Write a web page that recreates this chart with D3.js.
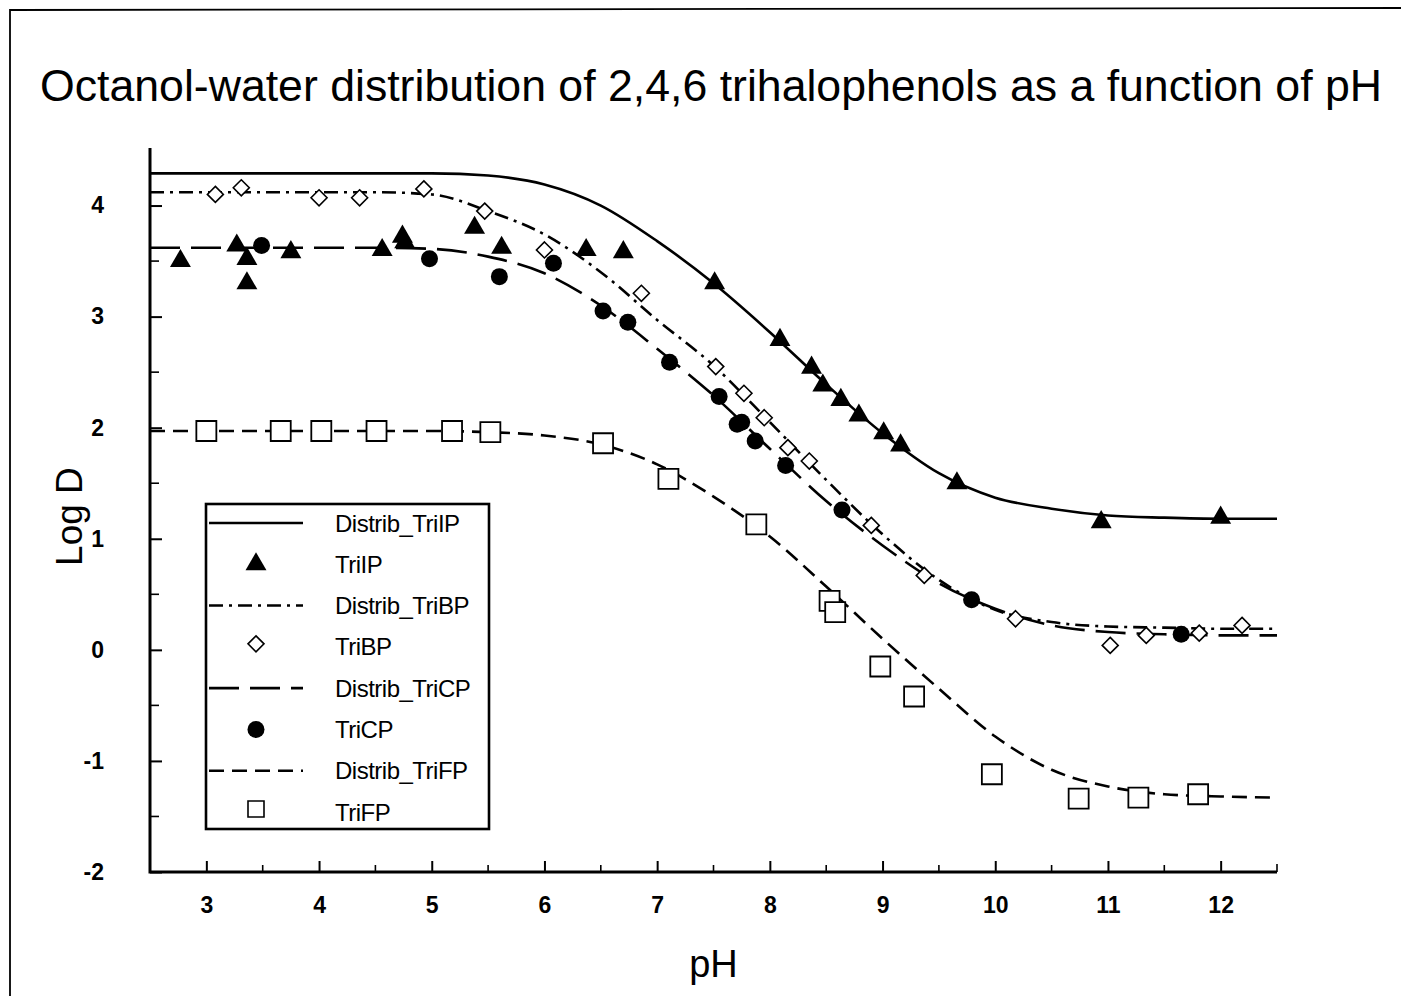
<!DOCTYPE html>
<html>
<head>
<meta charset="utf-8">
<script src="https://cdn.jsdelivr.net/npm/d3@7"></script>
<style>
  body { margin: 0; background: #fff; }
  svg { display: block; }
  text { font-family: "Liberation Sans", Arial, sans-serif; fill: #000; }
  .tick-label { font-family: "Liberation Sans Narrow", "Liberation Sans", sans-serif; font-weight: bold; font-size: 23px; }
</style>
</head>
<body>
<div id="wrapper"></div>
<script>
// fitted curves on a common pH grid
const curvePH = [2.5, 3, 3.5, 4, 4.5, 5, 5.5, 6, 6.5, 7, 7.5, 8, 8.5, 9, 9.5, 10, 10.5, 11, 11.5, 12, 12.5]
const curveTriIP = [4.29, 4.29, 4.29, 4.29, 4.29, 4.29, 4.27, 4.19, 4.00, 3.68, 3.30, 2.86, 2.39, 1.95, 1.59, 1.37, 1.27, 1.21, 1.19, 1.18, 1.18]
const curveTriBP = [4.12, 4.12, 4.12, 4.12, 4.12, 4.10, 3.95, 3.74, 3.40, 2.97, 2.56, 2.05, 1.53, 1.04, 0.63, 0.36, 0.25, 0.21, 0.20, 0.19, 0.19]
const curveTriCP = [3.62, 3.62, 3.62, 3.62, 3.62, 3.61, 3.54, 3.39, 3.10, 2.71, 2.29, 1.81, 1.34, 0.94, 0.60, 0.37, 0.22, 0.16, 0.14, 0.13, 0.13]
const curveTriFP = [1.97, 1.97, 1.97, 1.97, 1.97, 1.97, 1.96, 1.93, 1.85, 1.67, 1.38, 1.02, 0.57, 0.10, -0.35, -0.78, -1.08, -1.23, -1.30, -1.32, -1.33]

// measured points
const phTriIP = [2.77, 3.27, 3.36, 3.36, 3.75, 4.56, 4.74, 4.76, 5.38, 5.62, 6.37, 6.70, 7.51, 8.09, 8.37, 8.47, 8.63, 8.79, 9.01, 9.16, 9.66, 10.94, 12.0]
const logTriIP = [3.50, 3.64, 3.52, 3.30, 3.58, 3.60, 3.72, 3.67, 3.80, 3.62, 3.60, 3.58, 3.30, 2.79, 2.54, 2.38, 2.25, 2.11, 1.95, 1.84, 1.50, 1.15, 1.19]

const phTriBP = [3.08, 3.31, 4.0, 4.36, 4.93, 5.47, 6.0, 6.86, 7.52, 7.77, 7.95, 8.16, 8.35, 8.90, 9.37, 10.18, 11.02, 11.34, 11.81, 12.19]
const logTriBP = [4.10, 4.16, 4.07, 4.07, 4.15, 3.95, 3.60, 3.21, 2.55, 2.31, 2.09, 1.82, 1.70, 1.12, 0.67, 0.28, 0.04, 0.13, 0.15, 0.22]

const phTriCP = [3.49, 4.98, 5.60, 6.08, 6.52, 6.74, 7.11, 7.55, 7.71, 7.75, 7.87, 8.14, 8.64, 9.79, 11.65]
const logTriCP = [3.64, 3.52, 3.36, 3.48, 3.05, 2.95, 2.59, 2.28, 2.03, 2.05, 1.88, 1.66, 1.26, 0.45, 0.14]

const phTriFP = [3.0, 3.66, 4.02, 4.51, 5.18, 5.52, 6.52, 7.10, 7.88, 8.53, 8.58, 8.98, 9.28, 9.97, 10.74, 11.27, 11.80]
const logTriFP = [1.97, 1.97, 1.97, 1.97, 1.97, 1.96, 1.86, 1.54, 1.13, 0.44, 0.34, -0.15, -0.42, -1.12, -1.34, -1.33, -1.30]

const xTicks = [3, 4, 5, 6, 7, 8, 9, 10, 11, 12]
const yTicks = [-2, -1, 0, 1, 2, 3, 4]

const legendNames = ["Distrib_TriIP", "TriIP", "Distrib_TriBP", "TriBP", "Distrib_TriCP", "TriCP", "Distrib_TriFP", "TriFP"]

function drawChart() {
  const width = 1401
  const height = 996
  const margin = {top: 150, right: 124, bottom: 124, left: 150}

  const svg = d3.select("#wrapper").append("svg")
      .attr("width", width)
      .attr("height", height)

  // outer frame (runs off the page on the right and bottom)
  svg.append("path")
      .attr("d", `M10,${height + 5} L10,10 L${width + 5},8`)
      .attr("fill", "none")
      .attr("stroke", "#000")
      .attr("stroke-width", 1.8)

  const x = d3.scaleLinear().domain([2.5, 12.5]).range([margin.left, width - margin.right])
  const y = d3.scaleLinear().domain([-2, 4.5]).range([height - margin.bottom, margin.top])

  // title
  svg.append("text")
      .attr("x", 40).attr("y", 101)
      .attr("textLength", 1342)
      .attr("lengthAdjust", "spacingAndGlyphs")
      .style("font-size", "44px")
      .text("Octanol-water distribution of 2,4,6 trihalophenols as a function of pH")

  // axes
  const xAxis = d3.axisBottom(x).tickValues(xTicks).tickSize(-11).tickFormat(d => String(d)).tickPadding(29)
  const gx = svg.append("g")
      .attr("transform", `translate(0,${y(-2)})`)
      .call(xAxis)
  gx.select(".domain").remove()
  gx.selectAll(".tick line").attr("stroke-width", 2)
  gx.selectAll(".tick text").attr("class", "tick-label").attr("dy", "0.5em")

  const xMinor = d3.range(3.5, 12, 1)
  svg.append("g").selectAll("line")
    .data(xMinor.concat([12.5]))
    .join("line")
      .attr("x1", d => x(d)).attr("x2", d => x(d))
      .attr("y1", y(-2)).attr("y2", d => d === 12.5 ? y(-2) - 8 : y(-2) - 7)
      .attr("stroke", "#000").attr("stroke-width", 1.6)

  const yAxis = d3.axisLeft(y).tickValues(yTicks).tickSize(-12).tickPadding(46).tickFormat(d => String(d))
  const gy = svg.append("g")
      .attr("transform", `translate(${x(2.5)},0)`)
      .call(yAxis)
  gy.select(".domain").remove()
  gy.selectAll(".tick line").attr("stroke-width", 2)
  gy.selectAll(".tick text").attr("class", "tick-label")

  const yMinor = d3.range(-1.5, 4.5, 1)
  svg.append("g").selectAll("line")
    .data(yMinor)
    .join("line")
      .attr("x1", x(2.5)).attr("x2", x(2.5) + 9)
      .attr("y1", d => y(d)).attr("y2", d => y(d))
      .attr("stroke", "#000").attr("stroke-width", 1.6)

  svg.append("path")
      .attr("d", `M${x(2.5)},${y(4.5) - 2} L${x(2.5)},${y(-2)} L${x(12.5)},${y(-2)}`)
      .attr("fill", "none")
      .attr("stroke", "#000")
      .attr("stroke-width", 3)

  // axis titles
  svg.append("text")
      .attr("transform", `translate(82,${y(1.2)}) rotate(-90)`)
      .attr("text-anchor", "middle")
      .style("font-size", "37px")
      .text("Log D")
  svg.append("text")
      .attr("x", x(7.5)).attr("y", 977)
      .attr("text-anchor", "middle")
      .style("font-size", "38px")
      .text("pH")

  // curves
  const curves = [
    {values: curveTriIP, dash: null},
    {values: curveTriBP, dash: "14,6,3,6"},
    {values: curveTriCP, dash: "30,11"},
    {values: curveTriFP, dash: "15,8"},
  ]
  const line = d3.line()
      .x((d, i) => x(curvePH[i]))
      .y(d => y(d))
      .curve(d3.curveMonotoneX)

  svg.append("g").selectAll("path")
    .data(curves)
    .join("path")
      .attr("d", d => line(d.values))
      .attr("fill", "none")
      .attr("stroke", "#000")
      .attr("stroke-width", 2.6)
      .attr("stroke-dasharray", d => d.dash)

  // marker shapes
  const triangle = d3.symbol().type(d3.symbolTriangle).size(190)
  const diamond = "M0,-8 L8,0 L0,8 L-8,0 Z"
  const square = "M-10,-10 H10 V10 H-10 Z"

  const marks = svg.append("g")

  marks.selectAll(".tribp")
    .data(d3.zip(phTriBP, logTriBP))
    .join("path")
      .attr("class", "tribp")
      .attr("transform", d => `translate(${x(d[0])},${y(d[1])})`)
      .attr("d", diamond)
      .attr("fill", "#fff").attr("stroke", "#000").attr("stroke-width", 1.6)

  marks.selectAll(".trifp")
    .data(d3.zip(phTriFP, logTriFP))
    .join("path")
      .attr("class", "trifp")
      .attr("transform", d => `translate(${x(d[0])},${y(d[1])})`)
      .attr("d", square)
      .attr("fill", "#fff").attr("stroke", "#000").attr("stroke-width", 1.8)

  marks.selectAll(".tricp")
    .data(d3.zip(phTriCP, logTriCP))
    .join("circle")
      .attr("class", "tricp")
      .attr("cx", d => x(d[0])).attr("cy", d => y(d[1]))
      .attr("r", 8.5)
      .attr("fill", "#000")

  marks.selectAll(".triip")
    .data(d3.zip(phTriIP, logTriIP))
    .join("path")
      .attr("class", "triip")
      .attr("transform", d => `translate(${x(d[0])},${y(d[1])})`)
      .attr("d", triangle)
      .attr("fill", "#000")

  // legend
  const legend = svg.append("g").attr("transform", "translate(206,504)")
  legend.append("rect")
      .attr("width", 283).attr("height", 325)
      .attr("fill", "#fff").attr("stroke", "#000").attr("stroke-width", 2.6)

  const rowY = d3.scaleLinear().domain([0, 7]).range([19, 308])
  const rows = legend.selectAll("g.row")
    .data(legendNames)
    .join("g")
      .attr("class", "row")
      .attr("transform", (d, i) => `translate(0,${rowY(i)})`)

  rows.append("text")
      .attr("x", 129).attr("dy", "0.36em")
      .style("font-size", "24px")
      .style("letter-spacing", "-0.5px")
      .text(d => d)

  rows.each(function(d, i) {
    const g = d3.select(this)
    if (i % 2 === 0) {
      g.append("line")
          .attr("x1", 3).attr("x2", 97)
          .attr("stroke", "#000").attr("stroke-width", 2.6)
          .attr("stroke-dasharray", curves[i / 2].dash)
    } else if (i === 1) {
      g.append("path").attr("transform", "translate(50,0)").attr("d", triangle).attr("fill", "#000")
    } else if (i === 3) {
      g.append("path").attr("transform", "translate(50,-3)").attr("d", diamond)
          .attr("fill", "#fff").attr("stroke", "#000").attr("stroke-width", 1.6)
    } else if (i === 5) {
      g.append("circle").attr("cx", 50).attr("r", 8.5).attr("fill", "#000")
    } else {
      g.append("path").attr("transform", "translate(50,-3) scale(0.8)").attr("d", square)
          .attr("fill", "#fff").attr("stroke", "#000").attr("stroke-width", 2)
    }
  })
}

drawChart()
</script>
</body>
</html>
